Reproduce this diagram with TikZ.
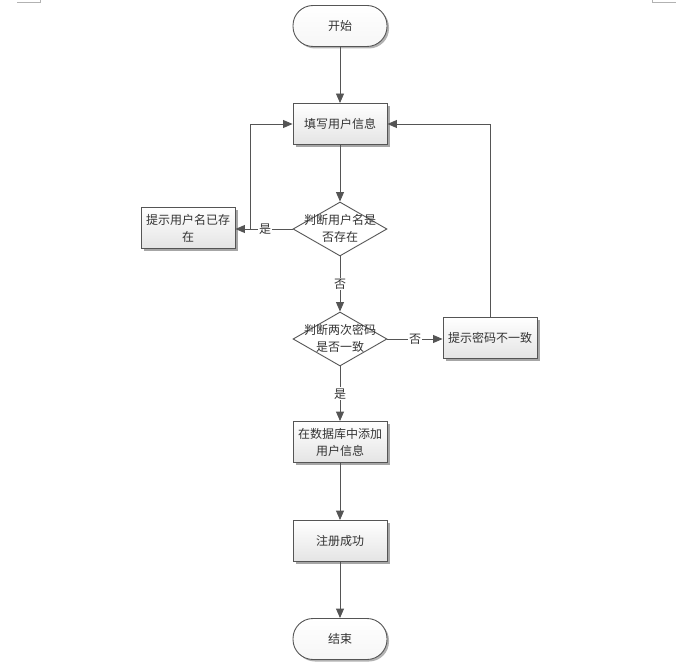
\documentclass[tikz,border=0pt]{standalone}
\usepackage{fontspec}
\newfontfamily\cjk{Noto Sans CJK SC}
\usetikzlibrary{arrows.meta,shapes.geometric,shadows}
\definecolor{linec}{HTML}{555555}
\definecolor{boxbot}{HTML}{E4E4E4}
\tikzset{
  base/.style={draw=linec, line width=0.9pt, font=\cjk\fontsize{12}{17}\selectfont, text=black!80, align=center, inner sep=1pt},
  procbox/.style={base, rectangle, minimum width=94pt, minimum height=41pt, top color=white, bottom color=boxbot,
     drop shadow={shadow xshift=2.5pt, shadow yshift=-2.5pt, fill=gray!70, opacity=1}},
  termbox/.style={base, rectangle, rounded corners=20pt, minimum width=94pt, minimum height=41pt, top color=white, bottom color=white!93!gray,
     drop shadow={shadow xshift=2pt, shadow yshift=-2pt, fill=gray!60, opacity=1}},
  decbox/.style={draw=linec, line width=0.9pt, diamond, fill=white, minimum width=94pt, minimum height=54pt, inner sep=0pt},
  dectext/.style={font=\cjk\fontsize{12}{17}\selectfont, text=black!80, align=center, inner sep=0pt},
  conn/.style={draw=linec, line width=0.9pt, -{Triangle[length=9.5pt,width=8pt]}},
  lbl/.style={fill=white, font=\cjk\fontsize{12}{14}\selectfont, text=black!80, inner sep=1pt},
  cornermark/.style={draw=gray!60, line width=0.8pt}
}
\begin{document}
\begin{tikzpicture}[x=1pt,y=-1pt]
\useasboundingbox (0,0) rectangle (685,671);
% corner marks
\draw[cornermark] (17,2) -- (40,2) -- (40,0);
\draw[cornermark] (652,0) -- (652,2) -- (676,2);
% nodes
\node[termbox] (start) at (340,26) {开始};
\node[procbox] (fill) at (340,124) {填写用户信息};
\node[decbox] (d1) at (340,229) {};
\node[dectext] (d1t) at (340,228) {判断用户名是\\否存在};
\node[procbox] (exist) at (188,228) {提示用户名已存\\在};
\node[decbox] (d2) at (340,339) {};
\node[dectext] (d2t) at (340,338) {判断两次密码\\是否一致};
\node[procbox] (mis) at (490,338) {提示密码不一致};
\node[procbox] (db) at (340,442) {在数据库中添加\\用户信息};
\node[procbox] (ok) at (340,541) {注册成功};
\node[termbox] (end) at (340,639) {结束};
\coordinate (lj) at (250,229);
% connectors
\draw[conn] (start) -- (fill);
\draw[conn] (fill) -- (d1);
\draw[conn] (d1.west) -- node[lbl, pos=0.48] (l1) {是} (exist.east |- d1.west);
\draw[conn] (lj) |- (fill.west);
\draw[conn] (d1) -- node[lbl, pos=0.5] (l2) {否} (d2);
\draw[conn] (d2.east) -- node[lbl, pos=0.5] (l3) {否} (mis.west |- d2.east);
\draw[conn] (mis.north) |- (fill.east);
\draw[conn] (d2) -- node[lbl, pos=0.5] (l4) {是} (db);
\draw[conn] (db) -- (ok);
\draw[conn] (ok) -- (end);
\end{tikzpicture}
\end{document}
